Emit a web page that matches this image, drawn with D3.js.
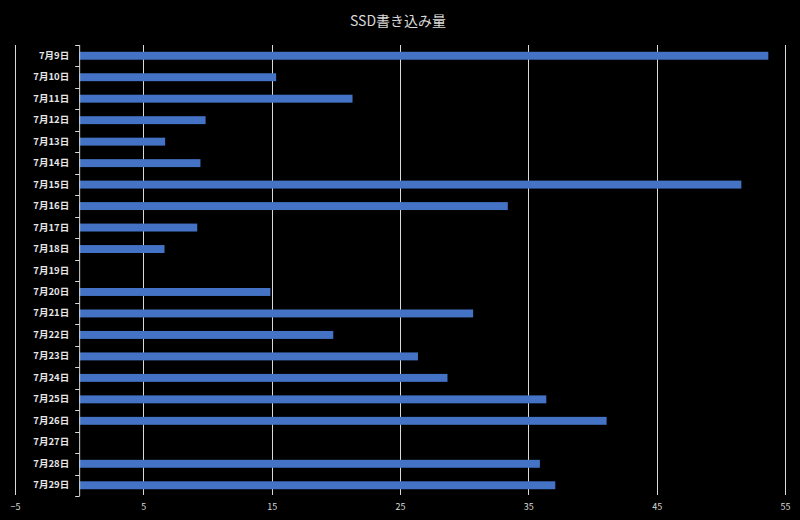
<!DOCTYPE html>
<html>
<head>
<meta charset="utf-8">
<script src="https://cdn.jsdelivr.net/npm/d3@7/dist/d3.min.js"></script>
<style>
  html, body { margin: 0; padding: 0; background: #000; }
  svg { display: block; }
</style>
</head>
<body>
<svg id="chart" width="800" height="520"></svg>
<script>
const title = "SSD書き込み量";
const categories = ["7月9日","7月10日","7月11日","7月12日","7月13日","7月14日","7月15日","7月16日","7月17日","7月18日","7月19日","7月20日","7月21日","7月22日","7月23日","7月24日","7月25日","7月26日","7月27日","7月28日","7月29日"];
const values = [53.7,15.35,21.3,9.85,6.7,9.45,51.6,33.4,9.2,6.65,0,14.9,30.7,19.8,26.4,28.7,36.4,41.1,0,35.9,37.1];
const xTicks = [-5,5,15,25,35,45,55];

(function () {
const svg = d3.select("#chart");
const W = 800, H = 520;
svg.append("rect").attr("width", W).attr("height", H).attr("fill", "#000");

const mLeft = 15, mRight = 785, mTop = 45, mBottom = 496;
const x = d3.scaleLinear().domain([-5, 55]).range([mLeft, mRight]);
const y = d3.scaleBand().domain(categories).range([mTop, mBottom]).padding(0);

const font = "'Noto Sans CJK JP', 'Noto Sans', sans-serif";

// title
svg.append("text")
  .attr("x", 398).attr("y", 20)
  .attr("text-anchor", "middle").attr("dominant-baseline", "central")
  .attr("fill", "#d9d9d9").attr("font-family", font).attr("font-size", 14)
  .text(title);

// gridlines
svg.append("g").selectAll("line").data(xTicks).join("line")
  .attr("x1", d => Math.round(x(d)) + 0.5).attr("x2", d => Math.round(x(d)) + 0.5)
  .attr("y1", mTop).attr("y2", mBottom - 1)
  .attr("stroke", "#d9d9d9").attr("stroke-width", 1);

// x axis labels
const xAxis = d3.axisBottom(x).tickValues(xTicks).tickSize(0).tickPadding(0);
const gx = svg.append("g").attr("transform", `translate(0,${mBottom + 8})`).call(xAxis);
gx.select(".domain").remove();
gx.selectAll("text").attr("fill", "#d9d9d9").attr("font-family", font).attr("font-size", 9);

// bars
const barH = y.bandwidth() * 0.37;
svg.append("g").selectAll("rect").data(categories).join("rect")
  .attr("x", x(0))
  .attr("y", (d) => y(d) + (y.bandwidth() - barH) / 2)
  .attr("width", (d, i) => Math.max(0, x(values[i]) - x(0)))
  .attr("height", barH)
  .attr("fill", "#4472c4");

// y axis
const yAxis = d3.axisLeft(y).tickSize(0).tickPadding(10);
const gy = svg.append("g").attr("transform", `translate(${x(0)},0)`).call(yAxis);
gy.select(".domain").attr("stroke", "#d9d9d9").attr("d", `M0.5,${mTop}V${mBottom}`);
gy.selectAll("text").attr("fill", "#e6e6e6").attr("font-family", font)
  .attr("font-size", 9.5).attr("font-weight", "bold");

// boundary ticks
const bounds = categories.map(c => y(c)).concat([mBottom]);
svg.append("g").selectAll("line").data(bounds).join("line")
  .attr("x1", x(0) - 4).attr("x2", x(0) + 0.5)
  .attr("y1", d => Math.round(d) + 0.5).attr("y2", d => Math.round(d) + 0.5)
  .attr("stroke", "#d9d9d9").attr("stroke-width", 1);
})();
</script>
</body>
</html>
